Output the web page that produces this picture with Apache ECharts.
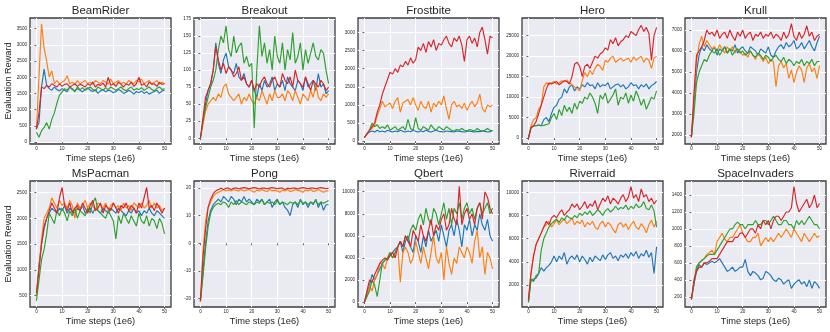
<!DOCTYPE html>
<html>
<head>
<meta charset="utf-8">
<script src="https://cdn.jsdelivr.net/npm/echarts@6/dist/echarts.min.js"></script>
<style>
    html, body { margin: 0; padding: 0; background: #fff; }
    #chart { width: 830px; height: 332px; }
</style>
</head>
<body>
<div id="chart"></div>
<script>
(function () {
    'use strict';

    // time steps (1e6), one eval point per step
    var steps = [0,1,2,3,4,5,6,7,8,9,10,11,12,13,14,15,16,17,18,19,20,21,22,23,24,25,26,27,28,29,30,31,32,33,34,35,36,37,38,39,40,41,42,43,44,45,46,47,48,49,50];

    var games = ['BeamRider', 'Breakout', 'Frostbite', 'Hero', 'Krull', 'MsPacman', 'Pong', 'Qbert', 'Riverraid', 'SpaceInvaders'];

    // y axis ranges and tick spacing per game
    var yMin = [-60, -8.4, -80, -1450, 1575, 280, -23.1, -450, 100, 80];
    var yMax = [3830, 176.4, 3400, 29300, 7570, 2725, 22.6, 10970, 10980, 1565];
    var yStep = [500, 25, 500, 5000, 1000, 500, 10, 2000, 2000, 200];

    var beamRiderBlue = [400,600,1700,2250,1750,1650,1600,1700,1620,1580,1650,1600,1550,1700,1620,1580,1650,1600,1550,1620,1680,1600,1560,1620,1500,1580,1620,1550,1600,1580,1520,1560,1620,1580,1500,1540,1600,1550,1480,1560,1520,1580,1500,1550,1480,1520,1560,1600,1500,1580,1600];
    var beamRiderOrange = [400,2000,3650,2900,2500,2000,2200,1800,1900,1800,1850,1900,2050,1800,1850,1780,1900,1800,1850,1900,1800,1850,1780,1900,1850,1800,1900,1850,1780,1950,1800,1850,1900,1800,1850,1780,1900,1850,1800,1900,1850,1950,1800,1850,1900,1800,1850,1900,1780,1850,1800];
    var beamRiderGreen = [300,150,350,450,600,400,700,900,1200,1450,1550,1650,1600,1700,1650,1550,1700,1620,1680,1600,1650,1700,1620,1580,1700,1650,1600,1680,1620,1700,1650,1600,1650,1700,1620,1580,1650,1700,1600,1650,1620,1680,1600,1650,1700,1620,1580,1660,1700,1620,1650];
    var beamRiderRed = [400,900,1700,1650,1750,1700,1800,1750,1700,1800,1720,1780,1800,1700,1750,1800,1720,1780,1750,1700,1800,1750,1850,1700,1780,1750,1820,1700,2000,1750,1800,1720,1850,1780,1700,1800,1750,1850,1720,1800,2000,1750,1800,1700,1850,1780,1800,1720,1850,1780,1800];

    var breakoutBlue = [0,25,50,70,80,100,140,110,95,115,125,105,100,95,110,90,85,95,80,75,85,70,60,80,70,85,75,80,90,70,80,75,85,70,90,80,75,70,85,80,70,90,75,80,85,70,95,75,80,65,70];
    var breakoutOrange = [0,20,40,50,55,60,55,65,60,75,80,65,60,55,60,65,50,60,55,65,55,50,60,55,70,60,50,65,55,70,60,60,65,55,70,65,55,70,60,50,65,60,55,70,60,80,60,55,65,60,65];
    var breakoutGreen = [0,25,45,60,75,85,100,130,150,140,165,130,120,150,125,135,140,110,120,105,110,15,100,165,120,140,110,130,100,150,120,110,140,100,130,115,155,110,120,140,100,130,110,125,140,120,115,130,125,100,80];
    var breakoutRed = [0,30,60,70,80,100,135,115,100,110,95,105,100,90,95,105,85,90,80,75,85,70,80,75,85,90,80,75,85,90,80,75,95,85,80,90,75,100,85,80,75,90,80,70,85,80,75,85,80,70,75];

    var frostbiteBlue = [100,200,250,280,250,300,260,280,250,300,270,250,280,260,300,270,250,280,260,300,270,250,280,260,300,270,250,280,300,270,260,250,280,270,260,250,280,270,260,250,270,280,260,250,270,260,280,270,250,260,300];
    var frostbiteOrange = [100,200,300,350,450,700,900,1100,950,1000,1050,900,1100,1200,800,1050,1100,1150,1000,1200,1000,850,1100,950,900,1100,800,1050,950,1100,1000,1250,900,600,1000,1100,950,1000,900,1050,850,1000,1100,950,1050,1300,900,800,1000,950,1000];
    var frostbiteGreen = [100,200,300,500,400,450,350,400,350,450,300,350,400,300,350,400,300,600,350,300,650,350,300,400,350,300,450,350,300,400,350,300,400,350,300,280,320,300,350,300,280,320,300,280,350,300,280,300,350,300,280];
    var frostbiteRed = [100,200,300,400,500,800,1000,1300,1500,1700,1900,1850,2000,1900,2100,2050,2200,2100,2300,2150,2250,2600,2500,2700,2450,2750,2600,2800,2500,2700,2650,2800,2900,2700,2600,2850,2750,2900,2650,2200,2800,2900,2700,2850,2600,3000,3150,2800,2400,2900,2850];

    var heroBlue = [0,2500,3000,3000,3200,3000,4500,5000,4000,6000,7500,8000,9500,10000,12000,11000,12500,13000,11500,12500,12000,13000,12500,13500,12800,13000,12000,13500,12500,13000,12800,13500,12000,12500,13000,13200,12500,13000,12000,12500,13500,12800,13000,12000,13000,12500,13200,12000,12800,13200,13800];
    var heroOrange = [0,3000,4500,5000,7000,8000,12500,13500,13000,13500,13800,13200,13500,14000,13800,14200,13500,13000,12500,12000,11500,14000,16000,15000,16500,15500,17000,18000,17500,16500,19000,18500,19500,20000,18500,19000,19500,18800,19200,19500,18500,19800,19000,19500,20000,18500,19500,19000,17000,19500,20000];
    var heroGreen = [0,2500,3000,3000,3200,3000,3100,3300,3500,5000,6000,4500,7000,5500,8000,6500,7500,6000,8500,7000,9000,8500,10000,9500,11000,10000,8500,6000,10500,9500,11000,8500,9500,10500,12000,8000,10000,9500,11000,8500,10500,9000,11500,10000,8000,9500,7000,8500,10000,9500,11500];
    var heroRed = [0,2500,3000,4000,6000,8000,10000,12000,13500,13200,13500,13800,13000,13500,14000,13800,13200,15000,18000,18500,17500,15000,17500,18000,17000,18500,20000,19500,20500,21000,22000,21500,24000,23000,24500,22500,23500,24000,25000,24500,26000,25500,25000,26500,27500,26000,27000,25500,19000,25000,27000];

    var krullBlue = [1900,3500,5000,5800,6200,6000,6300,6100,6000,6200,5800,6100,6000,6200,5900,6100,6000,6300,5900,6100,6200,6000,5900,6200,6100,6000,5800,6100,6000,5900,6200,5800,5700,6000,6200,6300,6100,6400,6200,6300,6500,6100,6200,6400,6100,6300,6500,6200,6000,6400,6700];
    var krullOrange = [1900,3800,5500,6300,6700,6200,6500,6300,6100,6200,6000,6300,6100,5900,6200,6000,6200,5900,6100,6000,5800,5900,5700,6000,5800,5600,5900,5700,5500,5700,5400,5600,5500,4300,5300,5500,5200,5400,4700,5100,4500,5000,5300,5100,4500,5200,5400,5000,5200,4700,5300];
    var krullGreen = [1900,3000,4500,5000,5300,5600,5500,5800,6000,5900,6100,5800,6000,6200,5900,6100,5800,6000,6100,5900,6000,5800,5900,6000,5800,5700,5900,5800,5600,5800,5700,5500,5700,5800,5600,5500,5700,5400,5600,5500,5300,5500,5400,5600,5300,5500,5400,5600,5300,5500,5500];
    var krullRed = [1900,4000,5800,6000,6200,6500,7000,6800,6900,6700,7000,6600,6800,6900,6600,7000,6700,6500,6900,6700,7000,6600,6800,6900,6500,6800,6700,6900,6600,6800,6700,6900,6600,6800,6700,6500,6900,6600,6800,7300,6700,6500,6900,6600,6800,7200,6700,6900,6500,6700,6800];

    var msPacmanBlue = [500,1100,1500,1800,2000,2100,2200,2150,2100,2200,2150,2250,2100,2200,2150,2100,2200,2150,2250,2100,2150,2200,2100,2200,2150,2100,2200,2150,2100,2200,2150,2100,2200,2150,2100,2050,2150,2100,2200,2100,2150,2050,2150,2100,2200,2100,2050,2150,2100,2050,2000];
    var msPacmanOrange = [500,1000,1600,2000,2100,2200,2400,2300,2200,2350,2250,2300,2200,2350,2250,2000,2300,2200,2250,2350,2200,2300,2250,2150,2300,2250,2200,2300,2150,2250,2300,2200,2250,2150,2300,2200,2250,2150,2300,2250,2200,2300,2200,2250,2350,2200,2300,2200,2250,2150,2200];
    var msPacmanGreen = [400,800,1200,1400,1700,2100,2000,1900,2150,2050,2200,2100,1950,2150,2050,2200,2000,2150,2100,2050,2200,2100,2300,2400,2150,2100,2050,2000,2150,2050,1950,1600,2050,1900,2100,2000,1900,2050,1950,1850,2100,1950,1900,2050,1850,2000,1950,1800,2000,1900,1700];
    var msPacmanRed = [550,1000,1500,1850,2000,2150,2300,2200,2100,2400,2600,2250,2150,2300,2100,2200,2250,2150,2300,2200,2100,2250,2350,2150,2200,2300,2100,2250,2200,2150,2300,2200,2100,2250,2200,2300,2150,2250,2200,2100,2300,2200,2400,2600,2200,2250,2150,2300,2200,2100,2200];

    var pongBlue = [-21,-10,0,8,12,14,15,16,15,17,16,15,17,16,14,16,15,17,15,16,15,14,16,15,16,14,15,16,13,15,16,14,15,13,12,10,14,15,13,16,14,15,13,15,14,16,13,15,12,14,14];
    var pongOrange = [-21,-3,8,13,15,17,18,18.5,19,19.5,19,19.3,19,19.5,19.2,19,19.5,19,19.3,19.5,19,18.5,19.3,19,19.5,19,18.8,19.5,19,19.2,19,18.5,19.3,19,19.5,18.8,19,19.5,19.2,19,18.5,19.3,19,19.5,18.8,19,19.5,19,18.5,19,19];
    var pongGreen = [-21,-12,-2,6,11,13,14,14.5,14,15,14.5,13,15,14,15.5,14,15,14.5,14,15,14.5,14,15,14.5,16,14,15,14.5,15,14,15.5,14,15,14.5,14,15,14.5,15,14,15.5,14.5,15,14,15,14.5,15.5,14,15,14.5,15,15.5];
    var pongRed = [-21,-5,5,13,16,18,19,19.5,20,19.5,20,20,19.5,20,20,19.8,20,20.2,20,19.8,20,20.2,20,19.7,20,20,19.8,20,20.2,20,19.8,20,20,19.5,20,19.8,20,20,19.7,20,20.2,20,19.8,20,20,19.8,20,20.2,20,19.8,20];

    var qbertBlue = [0,800,1500,2500,2000,2500,3000,3500,3800,4000,4200,4500,4800,5000,5500,4500,5500,6000,5000,4500,6000,5500,4500,6000,5000,6500,5500,6000,6500,5500,7000,6000,5000,6500,7000,6000,7500,6500,5000,7000,6500,7500,6000,7000,6500,8000,7000,6500,7500,6000,5500];
    var qbertOrange = [0,500,1500,1000,2000,2500,3500,3500,3000,4000,4500,4000,4500,5000,1800,4500,5000,4500,3500,4000,5500,4500,3500,5000,4000,3000,4500,6000,4000,3500,4500,2000,5000,3500,2500,4000,3500,5000,4500,4000,5000,4500,3500,5500,6500,4000,5000,2500,4500,4000,3000];
    var qbertGreen = [0,500,1000,2000,1500,500,2000,3500,3800,4000,4500,4000,4500,5000,5500,5000,6000,5500,6500,7000,6500,7500,8000,7000,8500,7500,7000,8500,8000,7000,8000,9000,7500,8500,7000,8500,8000,9000,7500,8500,9000,8000,8500,7500,8500,9000,8000,8500,9000,8000,8500];
    var qbertRed = [0,1000,2000,1800,2500,3000,3500,3800,4000,3800,4200,4500,4000,5000,5500,5000,6000,5500,5000,6500,6000,5500,7000,6000,5500,6500,7500,6000,7000,6500,7500,8000,6500,7000,8500,7500,7000,10500,7000,8000,8500,7500,8000,7000,8500,9000,7500,10000,9500,8500,8000];

    var riverraidBlue = [500,2500,2500,2600,3000,3500,3200,3500,3700,4000,4500,4000,4500,4200,4800,3800,4300,4500,4200,4600,4000,4500,4200,3800,4400,4000,4500,4300,4100,4600,4200,4600,4800,4300,4500,4100,4600,4400,4700,4300,4800,4500,4900,4300,4700,4500,5000,4400,4800,3000,5300];
    var riverraidOrange = [800,3000,4500,5500,6000,6500,7000,7200,7500,7000,7300,7600,7200,7500,7700,7300,7500,7800,7200,7500,7300,7600,7000,7400,7200,7500,7000,6800,7300,7500,7000,7400,7200,6800,6500,7200,7400,7000,7300,6800,7200,7500,7000,6800,7300,7000,6500,7200,7600,7000,7500];
    var riverraidGreen = [500,2500,2300,2800,3000,5000,6000,6500,7000,7300,7500,7700,7400,7800,7600,8000,7800,7700,8000,7800,8200,8000,8300,8100,8400,8000,8200,8500,8300,8000,8400,8600,8300,8500,8800,8500,8700,8600,8900,8500,8800,8600,9000,8700,8800,9200,8600,8500,8900,8400,7000];
    var riverraidRed = [700,3000,4500,5500,6000,6500,7000,7500,7200,7800,8000,7800,8200,8500,8000,8300,8500,9000,8700,9000,8500,8800,9200,8600,9000,8800,9300,8500,9000,9500,9200,9700,9000,9500,9300,9000,9500,9800,9200,9600,10500,9500,9800,9200,10300,9600,9800,9200,9500,9000,9300];

    var spaceInvadersBlue = [170,350,500,580,550,600,580,600,620,600,620,650,600,550,500,520,550,500,520,550,550,640,500,450,500,480,450,400,420,500,480,450,400,380,420,400,350,380,400,300,350,380,400,350,380,320,400,300,380,350,300];
    var spaceInvadersOrange = [170,380,550,600,620,650,700,720,750,700,850,900,950,880,850,900,900,950,1000,1050,950,900,850,850,900,900,950,800,850,900,850,900,850,900,950,900,950,1000,950,900,1000,950,900,850,950,900,850,900,950,900,920];
    var spaceInvadersGreen = [170,350,550,600,630,650,680,700,700,700,750,800,850,900,950,1000,1000,1050,1080,1050,1050,1000,1050,1050,1050,1100,1050,1050,1100,1100,1050,1100,1150,1100,1050,1050,1100,1100,1050,1050,1000,1100,1050,1100,1050,1100,1150,1100,1050,1050,1000];
    var spaceInvadersRed = [170,400,500,550,550,600,600,620,650,650,650,700,750,800,850,850,850,900,900,950,950,900,950,1000,1000,950,1050,1000,1100,1050,1100,1000,1100,1150,1150,1100,1150,1200,1200,1250,1500,1300,1200,1250,1300,1350,1250,1300,1400,1250,1300];

    // blue, orange, green, red per game (drawn in that order)
    var runs = [
        [beamRiderBlue, beamRiderOrange, beamRiderGreen, beamRiderRed],
        [breakoutBlue, breakoutOrange, breakoutGreen, breakoutRed],
        [frostbiteBlue, frostbiteOrange, frostbiteGreen, frostbiteRed],
        [heroBlue, heroOrange, heroGreen, heroRed],
        [krullBlue, krullOrange, krullGreen, krullRed],
        [msPacmanBlue, msPacmanOrange, msPacmanGreen, msPacmanRed],
        [pongBlue, pongOrange, pongGreen, pongRed],
        [qbertBlue, qbertOrange, qbertGreen, qbertRed],
        [riverraidBlue, riverraidOrange, riverraidGreen, riverraidRed],
        [spaceInvadersBlue, spaceInvadersOrange, spaceInvadersGreen, spaceInvadersRed]
    ];
    var colors = ['#1f77b4', '#ff7f0e', '#2ca02c', '#d62728'];

    var panelLeft = [30, 194, 358, 522, 685];
    var panelTop = [18, 181];
    var panelW = 141;
    var panelH = 126;
    var font = '"Liberation Sans", Arial, sans-serif';
    var ink = '#262626';

    var grids = [], xAxes = [], yAxes = [], series = [], titles = [];

    // plain numbers, no thousands separator
    function plain(v) {
        return String(v);
    }

    games.forEach(function (game, g) {
        var col = g % 5;
        var row = Math.floor(g / 5);
        var left = panelLeft[col];
        var top = panelTop[row];

        grids.push({
            left: left,
            top: top,
            width: panelW,
            height: panelH,
            show: true,
            backgroundColor: '#eaeaf2',
            borderColor: '#3d3d3d',
            borderWidth: 1.3
        });

        xAxes.push({
            type: 'value',
            gridIndex: g,
            min: -2.5,
            max: 52.5,
            minInterval: 10,
            maxInterval: 10,
            name: 'Time steps (1e6)',
            nameLocation: 'middle',
            nameGap: 10,
            nameTextStyle: { fontFamily: font, fontSize: 9.3, color: ink },
            axisLine: { show: false },
            axisTick: { show: true, length: 2, lineStyle: { color: '#3d3d3d', width: 0.8 } },
            axisLabel: { fontFamily: font, fontSize: 4.6, color: ink, margin: 2.5, showMinLabel: false, showMaxLabel: false, formatter: plain },
            splitLine: { show: true, showMinLine: false, showMaxLine: false, lineStyle: { color: '#ffffff', width: 1 } }
        });

        yAxes.push({
            type: 'value',
            gridIndex: g,
            min: yMin[g],
            max: yMax[g],
            minInterval: yStep[g],
            maxInterval: yStep[g],
            name: col === 0 ? 'Evaluation Reward' : '',
            nameLocation: 'middle',
            nameGap: 10,
            nameTextStyle: { fontFamily: font, fontSize: 9.2, color: ink },
            axisLine: { show: false },
            axisTick: { show: true, length: 2, lineStyle: { color: '#3d3d3d', width: 0.8 } },
            axisLabel: { fontFamily: font, fontSize: 4.6, color: ink, margin: 3, showMinLabel: false, showMaxLabel: false, formatter: plain },
            splitLine: { show: true, showMinLine: false, showMaxLine: false, lineStyle: { color: '#ffffff', width: 1 } }
        });

        runs[g].forEach(function (values, k) {
            series.push({
                type: 'line',
                xAxisIndex: g,
                yAxisIndex: g,
                data: values.map(function (v, i) { return [steps[i], v]; }),
                showSymbol: false,
                clip: true,
                z: 2 + k,
                lineStyle: { color: colors[k], width: 1.15 },
                itemStyle: { color: colors[k] }
            });
        });

        titles.push({
            type: 'text',
            style: {
                text: game,
                x: left + panelW / 2,
                y: top - 7,
                textAlign: 'center',
                textVerticalAlign: 'middle',
                font: '11.5px ' + font,
                fill: ink
            }
        });
    });

    var chart = echarts.init(document.getElementById('chart'), null, { renderer: 'canvas' });
    chart.setOption({
        animation: false,
        backgroundColor: '#ffffff',
        grid: grids,
        xAxis: xAxes,
        yAxis: yAxes,
        series: series,
        graphic: titles
    });
})();
</script>
</body>
</html>
